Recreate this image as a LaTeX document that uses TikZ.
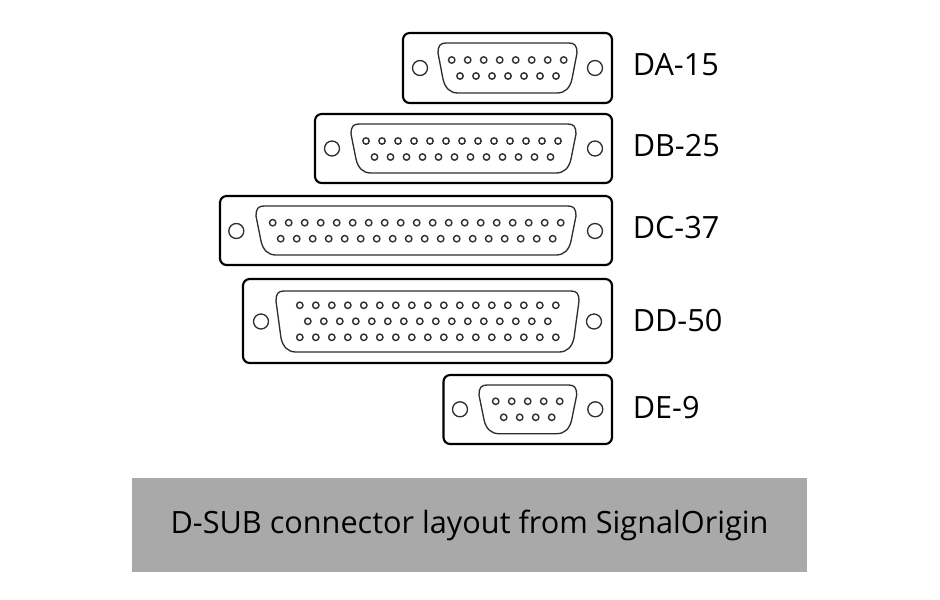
\documentclass[tikz,border=0pt]{standalone}
\usepackage{fontspec}
\setmainfont{Open Sans}
\definecolor{bannergray}{HTML}{A9A9A9}
\definecolor{linegray}{HTML}{2E2E2E}
% shell outline: left, right, top, bottom
\newcommand{\shellpath}[4]{
  \draw[shell] ({#1+8},#3) -- ({#2-8},#3)
    .. controls ({#2-2},#3) and (#2,{#3+3}) .. (#2,{#3+10})
    -- ({#2-5},{#4-14})
    .. controls ({#2-7},{#4-5}) and ({#2-12},#4) .. ({#2-20},#4)
    -- ({#1+20},#4)
    .. controls ({#1+12},#4) and ({#1+7},{#4-5}) .. ({#1+5},{#4-14})
    -- (#1,{#3+10})
    .. controls (#1,{#3+3}) and ({#1+2},#3) .. ({#1+8},#3) -- cycle;
}
% pin row: first x, y, last index
\newcommand{\pinrow}[3]{
  \foreach \i in {0,...,#3} \draw[pin] ({#1+\i*16},#2) circle (3.2);
}
\begin{document}
\begin{tikzpicture}[
    x=0.75pt, y=-0.75pt,
    body/.style={draw=black, line width=1.6pt, rounded corners=5pt},
    shell/.style={draw=linegray, line width=1pt},
    pin/.style={draw=linegray, line width=1.05pt},
    screw/.style={draw=linegray, line width=1pt},
    tag/.style={anchor=west, font=\fontsize{23}{27}\selectfont, inner sep=0pt}
  ]
  \useasboundingbox (0,0) rectangle (940,600);

  % DA-15
  \draw[body] (403,33) rectangle (612,103);
  \shellpath{438}{577}{43}{93}
  \pinrow{451.7}{60}{7}
  \pinrow{460}{76}{6}
  \draw[screw] (420,68) circle (7.5);
  \draw[screw] (595,68) circle (7.5);
  \node[tag] (da) at (632.5,65) {DA-15};

  % DB-25
  \draw[body] (315,114) rectangle (612,183);
  \shellpath{351}{576}{124}{173}
  \pinrow{366}{141}{12}
  \pinrow{374.5}{157}{11}
  \draw[screw] (332,148.5) circle (7.5);
  \draw[screw] (595,148.5) circle (7.5);
  \node[tag] (db) at (632.5,146) {DB-25};

  % DC-37
  \draw[body] (220,196) rectangle (612,265);
  \shellpath{256}{576}{206}{255}
  \pinrow{272.7}{222.7}{18}
  \pinrow{280.7}{238.7}{17}
  \draw[screw] (236.3,231) circle (7.5);
  \draw[screw] (595,231) circle (7.5);
  \node[tag] (dc) at (632.5,228) {DC-37};

  % DD-50
  \draw[body] (243,279) rectangle (612,363);
  \shellpath{276}{579}{291}{352}
  \pinrow{299.8}{305.3}{16}
  \pinrow{307.8}{321.3}{15}
  \pinrow{299.8}{337.3}{16}
  \draw[screw] (261,321.5) circle (7.5);
  \draw[screw] (594,321.5) circle (7.5);
  \node[tag] (dd) at (632.5,321) {DD-50};

  % DE-9
  \draw[body] (443.5,375) rectangle (612,444);
  \shellpath{479}{576.7}{385}{433.7}
  \pinrow{495.7}{401.3}{4}
  \pinrow{503.7}{417.3}{3}
  \draw[screw] (460,409.3) circle (7.5);
  \draw[screw] (595.3,409.3) circle (7.5);
  \node[tag] (de) at (632.5,408) {DE-9};

  % Banner
  \node[fill=bannergray, minimum width=506.25pt, minimum height=70.5pt,
    inner sep=0pt, font=\fontsize{23}{27}\selectfont] (banner) at (469.5,525)
    {\raisebox{-0.75pt}{D-SUB connector layout from SignalOrigin}};
\end{tikzpicture}
\end{document}
